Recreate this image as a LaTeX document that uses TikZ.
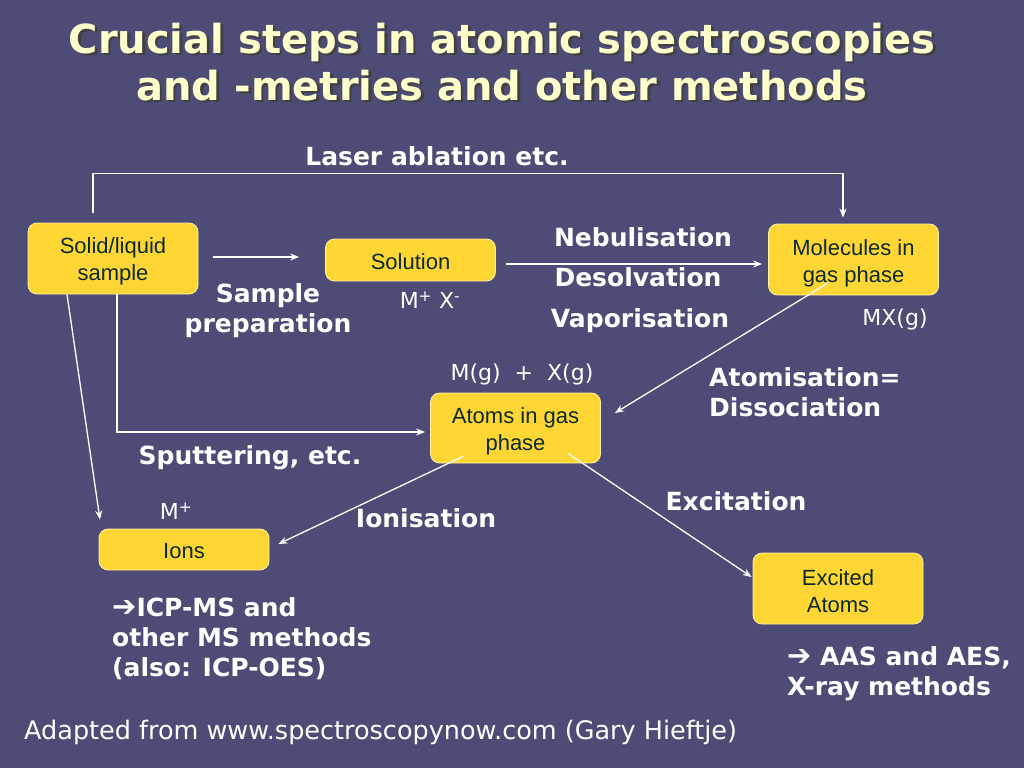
\documentclass[tikz,border=0pt]{standalone}
\usepackage{fontspec}
\setmainfont{DejaVu Sans}
\newfontfamily\boxfont{Liberation Sans}
\newfontfamily\arrowfont{DejaVu Sans}
\usetikzlibrary{arrows.meta,positioning}
\definecolor{slide}{HTML}{4C4C76}
\definecolor{gold}{HTML}{FFD633}
\definecolor{goldrim}{HTML}{FFF0A8}
\definecolor{boxtext}{HTML}{0D2A2A}
\definecolor{cream}{HTML}{FFFFCC}

\begin{document}
\begin{tikzpicture}[x=1pt,y=-1pt,
  stepbox/.style={fill=gold,draw=goldrim,line width=0.8pt,rounded corners=9pt,minimum width=170pt,inner sep=0pt},
  boxlbl/.style={font=\boxfont\fontsize{22}{27}\selectfont,text=boxtext,align=center,inner sep=0pt},
  lbl/.style={text=white,font=\bfseries\fontsize{25}{30}\selectfont,inner sep=0pt},
  chem/.style={text=white,font=\fontsize{22}{26}\selectfont,inner sep=0pt},
  arr/.style={white,line width=1.3pt,-{Stealth[length=9pt,width=7pt]}}]
  % Slide background
  \fill[slide] (0,0) rectangle (1024,768);
  \useasboundingbox (0,0) rectangle (1024,768);

  % Title
  \node[text=black!75,font=\bfseries\fontsize{40}{47}\selectfont,align=center,inner sep=0pt] (titleshadow) at (504.5,64)
    {Crucial steps in atomic spectroscopies\\and -metries and other methods};
  \node[text=cream,font=\bfseries\fontsize{40}{47}\selectfont,align=center,inner sep=0pt] (title) at (502,62)
    {Crucial steps in atomic spectroscopies\\and -metries and other methods};

  % Boxes
  \node[stepbox,minimum height=71pt] (solid) at (113,258.5) {};
  \node[stepbox,minimum height=42pt] (solution) at (410.5,260) {};
  \node[stepbox,minimum height=71pt] (molec) at (853.5,259.5) {};
  \node[stepbox,minimum height=70pt] (atoms) at (515.5,428) {};
  \node[stepbox,minimum height=41pt] (ions) at (184,549.5) {};
  \node[stepbox,minimum height=71pt] (excited) at (838,588.5) {};
  \node[boxlbl] (solidtxt) at ([yshift=-3pt]solid.center) {Solid/liquid\\sample};
  \node[boxlbl] (solutiontxt) at ([yshift=-2pt]solution.center) {Solution};
  \node[boxlbl] (molectxt) at ([yshift=-3.5pt]molec.center) {Molecules in\\gas phase};
  \node[boxlbl] (atomstxt) at ([yshift=-3pt]atoms.center) {Atoms in gas\\phase};
  \node[boxlbl] (ionstxt) at ([yshift=-2pt]ions.center) {Ions};
  \node[boxlbl] (excitedtxt) at ([yshift=-2.5pt]excited.center) {Excited\\Atoms};

  % Laser ablation
  \draw[arr] ([xshift=-20pt,yshift=10pt]solid.north) -- ++(0,-39) -| ([xshift=-10.5pt,yshift=6pt]molec.north);
  \node[lbl] (laser) at (437,156) {Laser ablation etc.};

  % Sample preparation
  \draw[arr] ([xshift=15pt,yshift=1.5pt]solid.east) -- ([xshift=-26pt,yshift=3pt]solution.west);
  \node[lbl,align=center] (prep) at (268,311) {Sample\\preparation};
  \node[chem] (ionpair) at (430,300) {M\textsuperscript{+} X\textsuperscript{-}};

  % Nebulisation etc.
  \draw[arr] ([xshift=10pt,yshift=-4pt]solution.east) -- ([xshift=-6pt,yshift=-4.5pt]molec.west);
  \node[lbl] (nebul) at (643,237) {Nebulisation};
  \node[lbl] (desolv) at (638,277) {Desolvation};
  \node[lbl] (vapor) at (640,320.5) {Vaporisation};
  \node[chem] (mxg) at (895,319) {MX(g)};

  % Atomisation
  \draw[arr] ([xshift=-25.5pt,yshift=-23.5pt]molec.center) -- ([xshift=14pt,yshift=15pt]atoms.east);
  \node[lbl,anchor=west,align=left] (atomis) at (709,392) {Atomisation=\\Dissociation};
  \node[chem] (mgxg) at (522,374) {M(g)\ \ +\ \ X(g)};

  % Sputtering and direct ions
  \draw[arr] ([xshift=4pt]solid.south) |- ([xshift=-5pt,yshift=-4pt]atoms.west);
  \node[lbl] (sputter) at (250,457.5) {Sputtering, etc.};
  \draw[arr] ([xshift=-46pt]solid.south) -- ([xshift=-84pt,yshift=9pt]ions.north);

  % Ionisation
  \draw[arr] ([xshift=-52.5pt,yshift=7pt]atoms.south) -- ([xshift=9pt,yshift=5.5pt]ions.east);
  \node[lbl] (ionis) at (426,518) {Ionisation};
  \node[chem] (mplus) at (176,511) {M\textsuperscript{+}};

  % Excitation
  \draw[arr] ([xshift=52.5pt,yshift=10pt]atoms.south) -- ([xshift=-1pt,yshift=11.5pt]excited.west);
  \node[lbl] (excit) at (736,501) {Excitation};

  % Methods
  \node[lbl,anchor=west,align=left] (msmeth) at (112,639)
    {{\arrowfont\fontsize{29}{30}\selectfont ➔}ICP-MS and\\other MS methods\\(also: ICP-OES)};
  \node[lbl,anchor=west,align=left] (aasmeth) at (787,674)
    {{\arrowfont\fontsize{29}{30}\selectfont ➔} AAS and AES,\\X-ray methods};

  % Source
  \node[text=white,font=\fontsize{25.5}{30}\selectfont,inner sep=0pt,anchor=west] (source) at (24,732)
    {Adapted from www.spectroscopynow.com (Gary Hieftje)};
\end{tikzpicture}
\end{document}
